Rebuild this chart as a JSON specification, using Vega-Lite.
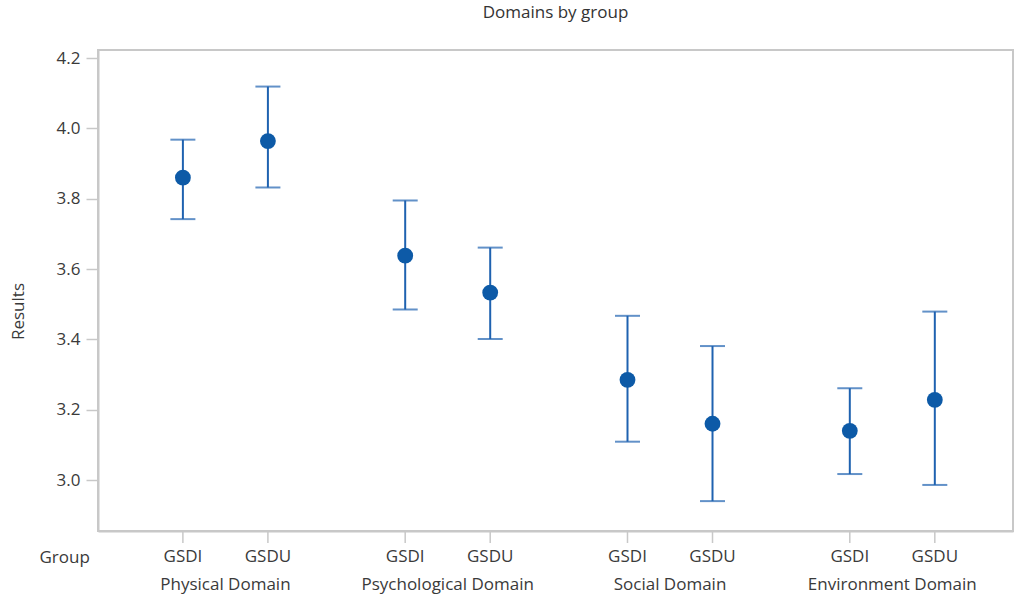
{
  "$schema": "https://vega.github.io/schema/vega-lite/v6.json",
  "width": 915,
  "height": 481,
  "autosize": {"type": "none"},
  "padding": {"left": 98, "top": 50, "right": 1, "bottom": 70},
  "background": "white",
  "config": {
    "font": "Open Sans",
    "view": {"stroke": "#c8c8c8", "strokeWidth": 2},
    "axis": {"labelFont": "Open Sans", "titleFont": "Open Sans", "labelColor": "#3a3a3a", "titleColor": "#3a3a3a", "titleFontWeight": "normal"}
  },
  "title": {"text": "Domains by group", "fontSize": 17, "fontWeight": "normal", "color": "#333333", "font": "Open Sans", "offset": 27, "anchor": "middle"},
  "data": {
    "values": [
      {"Domain": "Physical Domain", "Group": "GSDI", "lo": 3.742, "mean": 3.860, "hi": 3.968},
      {"Domain": "Physical Domain", "Group": "GSDU", "lo": 3.832, "mean": 3.964, "hi": 4.119},
      {"Domain": "Psychological Domain", "Group": "GSDI", "lo": 3.485, "mean": 3.638, "hi": 3.795},
      {"Domain": "Psychological Domain", "Group": "GSDU", "lo": 3.401, "mean": 3.533, "hi": 3.661},
      {"Domain": "Social Domain", "Group": "GSDI", "lo": 3.109, "mean": 3.285, "hi": 3.467},
      {"Domain": "Social Domain", "Group": "GSDU", "lo": 2.940, "mean": 3.160, "hi": 3.381},
      {"Domain": "Environment Domain", "Group": "GSDI", "lo": 3.017, "mean": 3.140, "hi": 3.261},
      {"Domain": "Environment Domain", "Group": "GSDU", "lo": 2.986, "mean": 3.228, "hi": 3.479}
    ]
  },
  "encoding": {
    "x": {
      "field": "Domain", "type": "nominal", "sort": null,
      "scale": {"paddingInner": 0, "paddingOuter": 0.058, "align": 0.63},
      "axis": {
        "title": "Group", "titleFontSize": 17, "titleAnchor": "start", "titleAlign": "left", "titleBaseline": "middle",
        "titleX": -59, "titleY": 26,
        "labelAngle": 0, "labelFontSize": 17, "labelPadding": 45, "ticks": false,
        "domain": true, "domainColor": "#c8c8c8", "domainWidth": 2
      }
    },
    "xOffset": {"field": "Group", "type": "nominal", "sort": null, "scale": {"paddingInner": 0, "paddingOuter": 0.3075}}
  },
  "layer": [
    {
      "mark": {"type": "rule", "color": "#1f62b0", "strokeWidth": 2},
      "encoding": {
        "y": {
          "field": "lo", "type": "quantitative",
          "scale": {"domain": [2.855, 4.223], "zero": false, "nice": false},
          "axis": {
            "title": "Results", "titleFontSize": 17, "titleY": 261, "titlePadding": 29,
            "values": [3.0, 3.2, 3.4, 3.6, 3.8, 4.0, 4.2], "format": ".1f",
            "labelFontSize": 17, "labelPadding": 6, "tickSize": 12, "tickColor": "#c8c8c8", "tickWidth": 1.5,
            "domainColor": "#c8c8c8", "domainWidth": 2, "grid": false
          }
        },
        "y2": {"field": "hi"}
      }
    },
    {
      "mark": {"type": "tick", "color": "#1f62b0", "thickness": 2, "size": 25, "orient": "horizontal"},
      "encoding": {"y": {"field": "lo", "type": "quantitative"}}
    },
    {
      "mark": {"type": "tick", "color": "#1f62b0", "thickness": 2, "size": 25, "orient": "horizontal"},
      "encoding": {"y": {"field": "hi", "type": "quantitative"}}
    },
    {
      "mark": {"type": "circle", "color": "#0d5aa7", "opacity": 1, "size": 250},
      "encoding": {"y": {"field": "mean", "type": "quantitative"}}
    },
    {
      "mark": {"type": "rule", "color": "#c8c8c8", "strokeWidth": 1.5},
      "encoding": {"y": {"value": {"expr": "height"}}, "y2": {"value": {"expr": "height + 12"}}}
    },
    {
      "mark": {"type": "text", "fontSize": 17, "color": "#3a3a3a", "baseline": "middle", "dy": 26, "font": "Open Sans"},
      "encoding": {"y": {"value": {"expr": "height"}}, "text": {"field": "Group"}}
    }
  ]
}
